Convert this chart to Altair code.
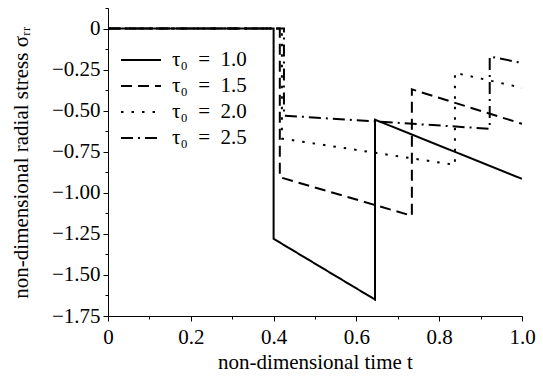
import altair as alt
import pandas as pd

series = ["τ₀\u2002=\u20021.0", "τ₀\u2002=\u20021.5", "τ₀\u2002=\u20022.0", "τ₀\u2002=\u20022.5"]

t_10 = [0.0, 0.40, 0.40, 0.645, 0.645, 1.0]
s_10 = [0.0, 0.0, -1.28, -1.65, -0.555, -0.915]

t_15 = [0.0, 0.415, 0.415, 0.734, 0.734, 1.0]
s_15 = [0.0, 0.0, -0.905, -1.14, -0.37, -0.58]

t_20 = [0.0, 0.42, 0.42, 0.838, 0.838, 1.0]
s_20 = [0.0, 0.0, -0.67, -0.83, -0.27, -0.36]

t_25 = [0.0, 0.425, 0.425, 0.922, 0.922, 1.0]
s_25 = [0.0, 0.0, -0.53, -0.61, -0.17, -0.21]

x_major = [0, 0.2, 0.4, 0.6, 0.8, 1.0]
x_minor = [0.1, 0.3, 0.5, 0.7, 0.9]
y_major = [0, -0.25, -0.5, -0.75, -1.0, -1.25, -1.5, -1.75]
y_minor = [0.125, -0.125, -0.375, -0.625, -0.875, -1.125, -1.375, -1.625]

rows = []
for name, ts, ss in zip(series, [t_10, t_15, t_20, t_25], [s_10, s_15, s_20, s_25]):
    for i, (t, s) in enumerate(zip(ts, ss)):
        rows.append({"series": name, "t": t, "s": s, "order": i})
df = pd.DataFrame(rows)

FONT = "Liberation Serif"
FS = 21

xscale = alt.Scale(domain=[0, 1.0], nice=False, zero=False)
yscale = alt.Scale(domain=[-1.75, 0.125], nice=False, zero=False)

lines = alt.Chart(df).mark_line(strokeWidth=2, color="black", clip=True).encode(
    x=alt.X("t:Q", scale=xscale, axis=alt.Axis(
        values=x_major, title="non-dimensional time t", grid=False,
        labelExpr="datum.value == 0 ? '0' : format(datum.value, '.1f')",
        tickSize=5, labelPadding=5, titlePadding=4,
        domainColor="black", tickColor="black", labelColor="black",
        labelFont=FONT, labelFontSize=FS, titleFont=FONT, titleFontSize=FS,
        titleFontWeight="normal", titleColor="black", labelFlush=False)),
    y=alt.Y("s:Q", scale=yscale, axis=alt.Axis(
        values=y_major, title="non-dimensional radial stress σᵣᵣ", grid=False,
        labelExpr="datum.value == 0 ? '0' : format(datum.value, '.2f')",
        tickSize=5, labelPadding=3, titlePadding=20,
        domainColor="black", tickColor="black", labelColor="black",
        labelFont=FONT, labelFontSize=FS, titleFont=FONT, titleFontSize=FS,
        titleFontWeight="normal", titleColor="black")),
    strokeDash=alt.StrokeDash("series:N", sort=series,
        scale=alt.Scale(domain=series, range=[[1, 0], [11, 6], [2.5, 8], [12, 5, 2, 5]]),
        legend=alt.Legend(title=None, orient="none", legendX=22, legendY=41,
                          symbolType="M-2,0L2,0", symbolSize=400, symbolStrokeWidth=2,
                          symbolStrokeColor="black", symbolFillColor="transparent",
                          labelFont=FONT, labelFontSize=FS, labelColor="black",
                          rowPadding=5, labelOffset=20)),
    detail="series:N",
    order="order:Q",
)

minor_df = pd.DataFrame({"t": [0.5], "s": [-0.5]})
minor = alt.Chart(minor_df).mark_point(opacity=0).encode(
    x=alt.X("t:Q", scale=xscale, axis=alt.Axis(
        values=x_minor, orient="bottom", labels=False, title=None, grid=False,
        domain=False, tickSize=3, tickColor="black")),
    y=alt.Y("s:Q", scale=yscale, axis=alt.Axis(
        values=y_minor, orient="left", labels=False, title=None, grid=False,
        domain=False, tickSize=3, tickColor="black")),
)

chart = alt.layer(lines, minor).resolve_axis(x="independent", y="independent").properties(
    width=414, height=308,
    autosize=alt.AutoSizeParams(type="none"),
    padding={"left": 108, "top": 8, "right": 21, "bottom": 67},
    background="white",
).configure_view(stroke=None)

chart.save("out.html", embed_options={"renderer": "svg", "actions": False})
